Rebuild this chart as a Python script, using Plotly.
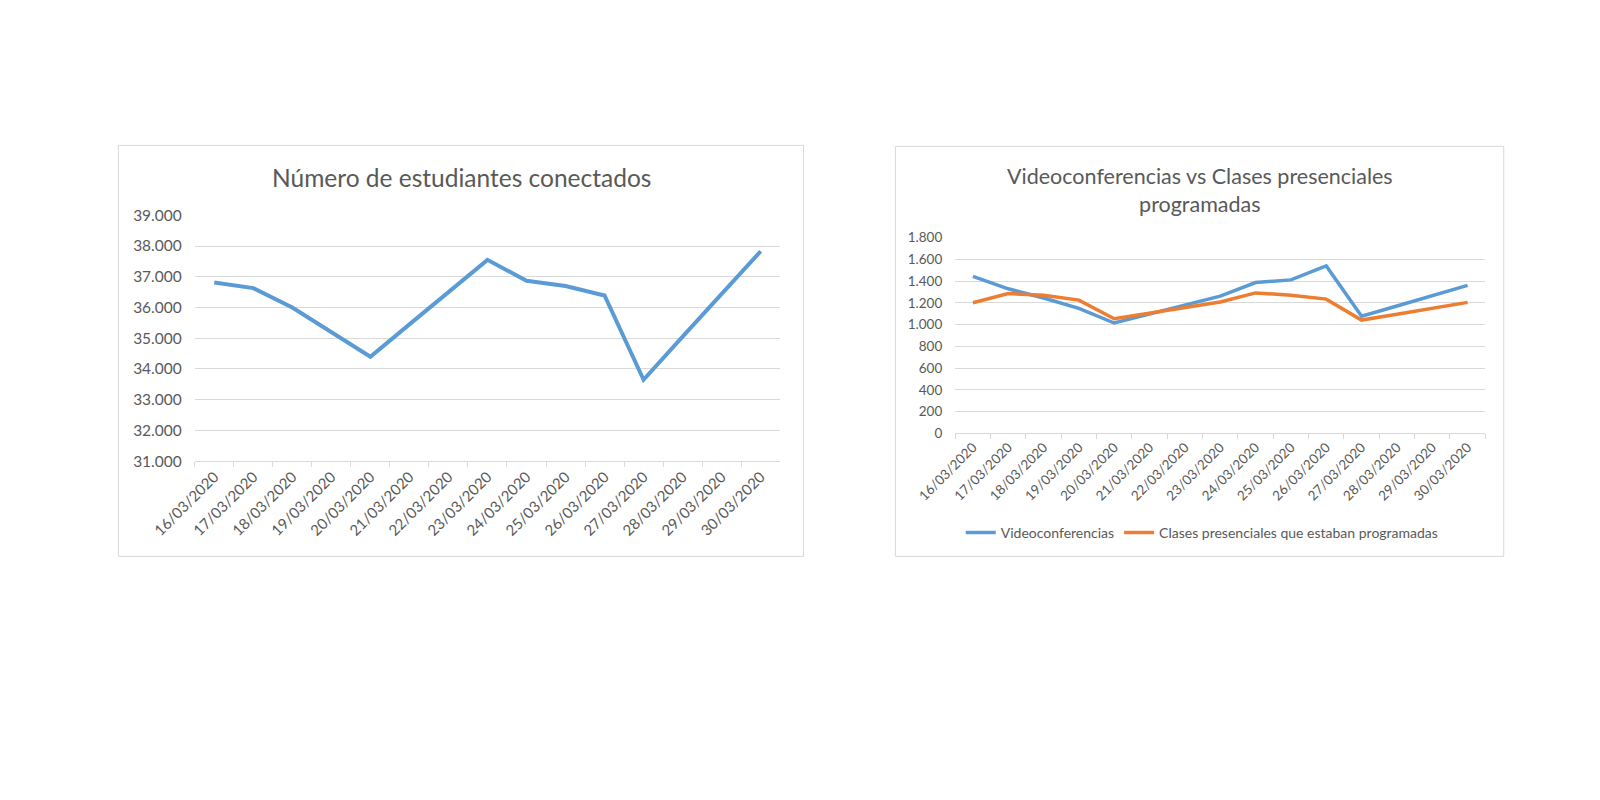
import plotly.graph_objects as go

fechas = ["16/03/2020", "17/03/2020", "18/03/2020", "19/03/2020", "20/03/2020",
          "21/03/2020", "22/03/2020", "23/03/2020", "24/03/2020", "25/03/2020",
          "26/03/2020", "27/03/2020", "28/03/2020", "29/03/2020", "30/03/2020"]

estudiantes = [36810, 36630, 36000, 35200, 34400, 35450, 36500, 37550,
               36870, 36700, 36390, 33650, 35050, 36430, 37830]

videoconferencias = [1445, 1330, 1245, 1150, 1015, 1097, 1180, 1262,
                     1388, 1412, 1541, 1077, 1172, 1266, 1361]

clases_programadas = [1202, 1286, 1271, 1226, 1054, 1105, 1157, 1208,
                      1292, 1271, 1235, 1042, 1095, 1150, 1205]

W, H = 1600, 800
FONT = "Lato"
TXT = "#595959"
GRID = "#D9D9D9"
BLUE = "#5B9BD5"
ORANGE = "#ED7D31"


def px(x):
    return x / W


def py(y):
    return 1 - y / H


fig = go.Figure()

fig.add_trace(go.Scatter(x=fechas, y=estudiantes, mode="lines",
                         line=dict(color=BLUE, width=4),
                         name="Número de estudiantes conectados",
                         showlegend=False, xaxis="x", yaxis="y"))

fig.add_trace(go.Scatter(x=fechas, y=videoconferencias, mode="lines",
                         line=dict(color=BLUE, width=3.5),
                         name="Videoconferencias", xaxis="x2", yaxis="y2"))
fig.add_trace(go.Scatter(x=fechas, y=clases_programadas, mode="lines",
                         line=dict(color=ORANGE, width=3.5),
                         name="Clases presenciales que estaban programadas",
                         xaxis="x2", yaxis="y2"))

xcommon = dict(type="category", showgrid=False, showline=True, linecolor=GRID,
               linewidth=1, ticks="outside", tickson="boundaries", ticklen=5,
               tickcolor=GRID, tickangle=-45, zeroline=False,
               range=[-0.5, len(fechas) - 0.5])
ycommon = dict(showgrid=True, gridcolor=GRID, gridwidth=1, showline=False,
               zeroline=False, ticks="", tickformat=",d")

fig.update_layout(
    width=W, height=H, autosize=False,
    margin=dict(l=0, r=0, t=0, b=0),
    paper_bgcolor="white", plot_bgcolor="white",
    separators=",.",
    font=dict(family=FONT, color=TXT),
    xaxis=dict(xcommon, domain=[px(155), px(757)], anchor="y",
               tickfont=dict(size=15, color=TXT)),
    yaxis=dict(ycommon, domain=[py(461.6), py(210)], anchor="x",
               range=[31000, 39000], dtick=1000, ticklabelstandoff=12,
               tickfont=dict(size=15.5, color=TXT)),
    xaxis2=dict(xcommon, domain=[px(937), px(1482)], anchor="y2",
                tickfont=dict(size=13.5, color=TXT)),
    yaxis2=dict(ycommon, domain=[py(433), py(233)], anchor="x2",
                range=[0, 1800], dtick=200, ticklabelstandoff=12,
                tickfont=dict(size=13.5, color=TXT)),
    legend=dict(orientation="h", x=px(1191), xanchor="center",
                y=py(535), yanchor="middle",
                font=dict(size=14, color=TXT), itemwidth=30,
                bgcolor="rgba(0,0,0,0)"),
    shapes=[
        dict(type="rect", xref="paper", yref="paper",
             x0=px(76.5), x1=px(781), y0=py(559), y1=py(138.5),
             line=dict(color=GRID, width=1), fillcolor="rgba(0,0,0,0)", layer="below"),
        dict(type="rect", xref="paper", yref="paper",
             x0=px(875.5), x1=px(1501), y0=py(559), y1=py(139.5),
             line=dict(color=GRID, width=1), fillcolor="rgba(0,0,0,0)", layer="below"),
    ],
    annotations=[
        dict(text="Número de estudiantes conectados", xref="paper", yref="paper",
             x=px(429), y=py(171), xanchor="center", yanchor="middle",
             showarrow=False, font=dict(size=24.5, color=TXT, family=FONT)),
        dict(text="Videoconferencias vs Clases presenciales<br>programadas",
             xref="paper", yref="paper",
             x=px(1189), y=py(184), xanchor="center", yanchor="middle",
             showarrow=False, font=dict(size=21.5, color=TXT, family=FONT)),
    ],
)

fig.write_html("out.html", config={"displayModeBar": False},
               post_script="document.body.style.margin='0';")
